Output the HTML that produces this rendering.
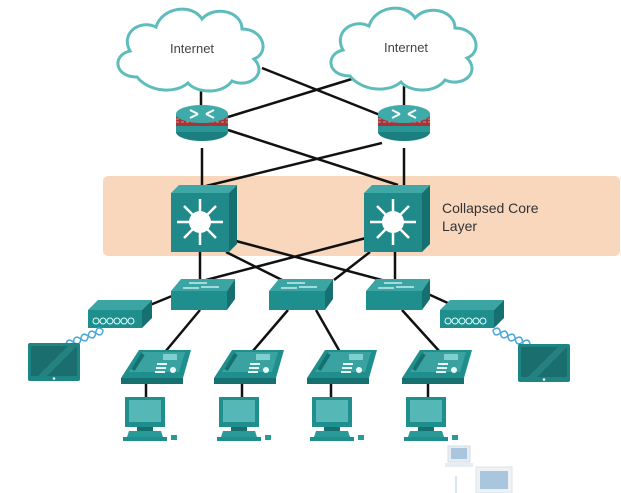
<!DOCTYPE html>
<html><head><meta charset="utf-8"><style>
html,body{margin:0;padding:0;background:#fff;}
svg{display:block}
text{font-family:"Liberation Sans",sans-serif;}
</style></head><body>
<svg width="621" height="493" viewBox="0 0 621 493" xmlns="http://www.w3.org/2000/svg">
<defs>
<g id="cloud">
<path d="M-55,30 C-78,30 -80,8 -62,4 C-72,-14 -52,-28 -36,-20 C-30,-40 0,-44 10,-28 C22,-42 50,-36 50,-18 C72,-18 78,6 62,12 C76,26 58,42 40,34 C30,48 4,46 -4,36 C-18,48 -44,44 -55,30 Z" fill="#fff" stroke="#5fbcbc" stroke-width="3"/>
</g>
<g id="router">
<ellipse cx="0" cy="28" rx="26" ry="9" fill="#1b7f80"/>
<rect x="-26" y="10" width="52" height="18" fill="#2a9696"/>
<rect x="-26" y="13" width="52" height="9" fill="#a8343a"/>
<path d="M-26,15 H26 M-26,18 H26" stroke="#e48a8a" stroke-width="1" stroke-dasharray="3 2"/>
<ellipse cx="0" cy="10" rx="26" ry="9" fill="#3eaaa9"/>
<path d="M-12,6 L-4,10 M12,6 L4,10 M-12,14 L-4,10 M12,14 L4,10" stroke="#fff" stroke-width="2"/>
</g>
<g id="core">
<polygon points="0,8 8,0 66,0 58,8" fill="#3fa7a6"/>
<polygon points="58,8 66,0 66,59 58,67" fill="#16706f"/>
<rect x="0" y="8" width="58" height="59" fill="#1f8a89"/>
<g stroke="#fff" stroke-width="2.5">
<path d="M29,14 V60 M6,37 H52 M13,21 L45,53 M45,21 L13,53"/>
</g>
<circle cx="29" cy="37" r="11" fill="#fff"/>
</g>
<g id="sw">
<polygon points="0,12 10,0 64,0 56,12" fill="#3ba5a4"/>
<polygon points="56,12 64,0 64,20 56,31" fill="#16706f"/>
<rect x="0" y="12" width="56" height="19" fill="#1f8f8e"/>
<path d="M18,4 H36 M30,8 H48 M12,9 H28" stroke="#c8eceb" stroke-width="1.5"/>
</g>
<g id="ap">
<polygon points="0,10 10,0 64,0 54,10" fill="#3ba5a4"/>
<polygon points="54,10 64,0 64,18 54,28" fill="#16706f"/>
<rect x="0" y="10" width="54" height="18" fill="#1f8f8e"/>
<g fill="none" stroke="#dff" stroke-width="1"><circle cx="8" cy="21" r="3"/><circle cx="15" cy="21" r="3"/><circle cx="22" cy="21" r="3"/><circle cx="29" cy="21" r="3"/><circle cx="36" cy="21" r="3"/><circle cx="43" cy="21" r="3"/></g>
</g>
<g id="tab">
<rect x="0" y="0" width="52" height="38" rx="2" fill="#1d8584"/>
<rect x="3" y="3" width="46" height="30" fill="#1a6e6d"/>
<path d="M10,33 L40,3 L49,3 L19,33Z" fill="#2f8f8e" opacity=".6"/>
<circle cx="26" cy="35.5" r="1.3" fill="#fff"/>
</g>
<g id="phone">
<polygon points="-6,28 12,0 64,0 56,28" fill="#1f8f8e"/>
<polygon points="2,22 16,2 58,2 52,22" fill="#3aa3a2"/>
<rect x="-6" y="28" width="62" height="6" fill="#16706f"/>
<rect x="36" y="4" width="14" height="6" fill="#7fd0cf"/>
<path d="M6,20 L16,4" stroke="#16706f" stroke-width="4"/>
<path d="M30,14 h10 M29,18 h10 M28,22 h10" stroke="#e8fbfb" stroke-width="2"/>
<circle cx="46" cy="20" r="3" fill="#e8fbfb"/>
</g>
<g id="pc">
<rect x="0" y="0" width="40" height="30" fill="#1f8f8e"/>
<rect x="4" y="3" width="32" height="22" fill="#56b8b6"/>
<rect x="12" y="30" width="16" height="4" fill="#16706f"/>
<polygon points="4,34 36,34 38,40 2,40" fill="#2a9a99"/>
<rect x="-2" y="40" width="44" height="4" fill="#1f8f8e"/>
<rect x="46" y="38" width="6" height="5" fill="#2a9a99"/>
</g>
<g id="wave">
<path d="M0,0 q4,-7 8,0 q4,7 8,0 q4,-7 8,0 q4,7 8,0 q4,-7 8,0" fill="none" stroke="#4aa6dc" stroke-width="1.5"/>
<path d="M0,0 q4,7 8,0 q4,-7 8,0 q4,7 8,0 q4,-7 8,0 q4,7 8,0" fill="none" stroke="#4aa6dc" stroke-width="1.5"/>
</g>
</defs>

<rect x="103" y="176" width="517" height="80" rx="5" fill="#f8d7bd"/>

<g stroke="#111" stroke-width="2.5" fill="none">
<path d="M201,86 V106"/>
<path d="M404,86 V106"/>
<path d="M262,68 L380,115"/>
<path d="M355,78 L228,117"/>
<path d="M228,130 L398,185"/>
<path d="M382,143 L206,186"/>
<path d="M202,148 V186"/>
<path d="M404,148 V186"/>
<path d="M200,252 V280"/>
<path d="M236,241 L382,280"/>
<path d="M226,252 L282,280"/>
<path d="M366,238 L206,280"/>
<path d="M370,252 L334,280"/>
<path d="M395,252 V280"/>
<path d="M172,296 L150,305"/>
<path d="M428,294 L450,304"/>
<path d="M200,310 L165,352"/>
<path d="M288,310 L252,352"/>
<path d="M316,310 L340,352"/>
<path d="M402,310 L440,352"/>
<path d="M146,383 V398"/>
<path d="M242,383 V398"/>
<path d="M331,383 V398"/>
<path d="M428,383 V398"/>
</g>

<use href="#cloud" x="192" y="47"/>
<use href="#cloud" x="405" y="46"/>
<text x="192" y="53" font-size="13" text-anchor="middle" fill="#444">Internet</text>
<text x="406" y="52" font-size="13" text-anchor="middle" fill="#444">Internet</text>

<use href="#router" x="202" y="104"/>
<use href="#router" x="404" y="104"/>

<use href="#core" x="171" y="185"/>
<use href="#core" x="364" y="185"/>
<text x="442" y="213" font-size="14" fill="#333">Collapsed Core</text>
<text x="442" y="231" font-size="14" fill="#333">Layer</text>

<use href="#sw" x="171" y="279"/>
<use href="#sw" x="269" y="279"/>
<use href="#sw" x="366" y="279"/>

<use href="#ap" x="88" y="300"/>
<use href="#ap" x="440" y="300"/>

<g transform="translate(66,345) rotate(-22)"><use href="#wave"/></g>
<g transform="translate(493,330) rotate(22)"><use href="#wave"/></g>

<use href="#tab" x="28" y="343"/>
<use href="#tab" x="518" y="344"/>

<use href="#phone" x="127" y="350"/>
<use href="#phone" x="220" y="350"/>
<use href="#phone" x="313" y="350"/>
<use href="#phone" x="408" y="350"/>

<use href="#pc" x="125" y="397"/>
<use href="#pc" x="219" y="397"/>
<use href="#pc" x="312" y="397"/>
<use href="#pc" x="406" y="397"/>

<rect x="448" y="446" width="22" height="16" fill="#e6eef3" stroke="#d4dde3"/>
<rect x="451" y="448" width="16" height="11" fill="#a9c6de"/>
<rect x="445" y="463" width="28" height="4" fill="#e6eef3"/>
<rect x="455" y="476" width="2" height="17" fill="#dde4ea"/>
<rect x="476" y="467" width="36" height="26" fill="#eef2f5" stroke="#dde4ea"/>
<rect x="480" y="471" width="28" height="18" fill="#a9c6de"/>
</svg>
</body></html>
